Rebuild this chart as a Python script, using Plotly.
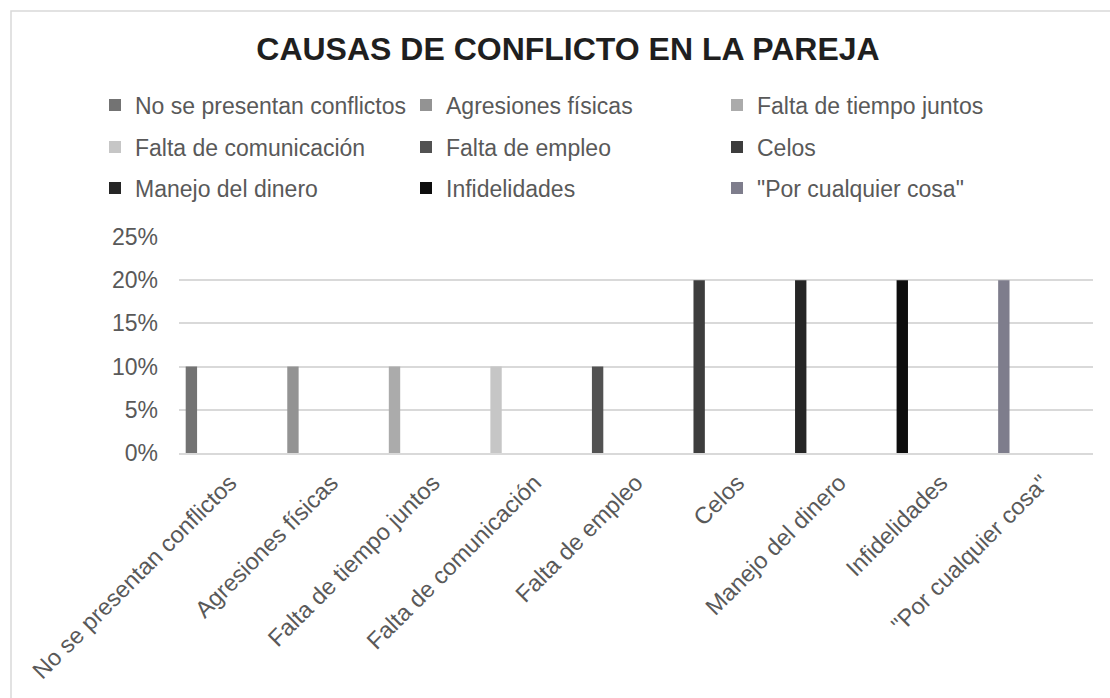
import plotly.graph_objects as go

categories = ["No se presentan conflictos", "Agresiones físicas", "Falta de tiempo juntos",
              "Falta de comunicación", "Falta de empleo", "Celos", "Manejo del dinero",
              "Infidelidades", "\"Por cualquier cosa\""]
values = [0.10, 0.10, 0.10, 0.10, 0.10, 0.20, 0.20, 0.20, 0.20]
colors = ["#737373", "#939393", "#ababab", "#c6c6c6", "#525252", "#3d3d3d", "#262626", "#0d0d0d", "#7e7d8c"]
y_ticks = [0, 0.05, 0.10, 0.15, 0.20, 0.25]

W, H = 1110, 698
L, R, T, B = 179, 1093, 237, 453
pw, ph = R - L, B - T

def px2x(p):
    return (p - L) / pw

def px2y(p):
    return (B - p) / ph

FONT = "Liberation Sans, Arial, sans-serif"
TXT = "#595959"

fig = go.Figure()
legend_names = ["legend", "legend2", "legend3"]
for i, (c, v, col) in enumerate(zip(categories, values, colors)):
    fig.add_trace(go.Bar(
        x=[c], y=[v], name=c, marker=dict(color=col, line=dict(width=0)),
        offset=-0.434, width=0.112,
        legend=legend_names[i // 3],
        hovertemplate="%{x}: %{y:.0%}<extra></extra>",
    ))

row_y = [105, 147, 188]
leg_common = dict(orientation="h", xanchor="left", yanchor="middle",
                  font=dict(family=FONT, size=23, color=TXT),
                  entrywidth=266, entrywidthmode="pixels",
                  bgcolor="rgba(0,0,0,0)", borderwidth=0, traceorder="normal")

fig.update_layout(
    width=W, height=H,
    margin=dict(l=L, r=W - R, t=T, b=H - B, autoexpand=False),
    paper_bgcolor="white", plot_bgcolor="white",
    barmode="overlay",
    showlegend=True,
    title=dict(text="<b>CAUSAS DE CONFLICTO EN LA PAREJA</b>",
               font=dict(family=FONT, size=32, color="#1f1f1f"),
               x=568 / W, xanchor="center", y=1 - 49 / H, yanchor="middle"),
    legend=dict(x=px2x(95), y=px2y(row_y[0]), **leg_common),
    legend2=dict(x=px2x(95), y=px2y(row_y[1]), **leg_common),
    legend3=dict(x=px2x(95), y=px2y(row_y[2]), **leg_common),
    xaxis=dict(categoryorder="array", categoryarray=categories,
               tickangle=-45, tickfont=dict(family=FONT, size=23.5, color=TXT),
               showline=True, linecolor="#d9d9d9", linewidth=1.5,
               showgrid=False, ticks="", ticklabelstandoff=5,
               automargin=False, fixedrange=True),
    yaxis=dict(range=[0, 0.25], tickvals=y_ticks, tickformat=".0%",
               tickfont=dict(family=FONT, size=23, color=TXT),
               showgrid=True, gridcolor="#d9d9d9", gridwidth=1.5,
               zeroline=False, showline=False, ticks="", ticklabelstandoff=20,
               automargin=False, fixedrange=True),
    shapes=[dict(type="rect", xref="paper", yref="paper",
                 x0=px2x(11), x1=px2x(1125), y0=px2y(711), y1=px2y(11),
                 line=dict(color="#d9d9d9", width=1.5), fillcolor="rgba(0,0,0,0)", layer="below")],
)

fig.write_html("out.html", config={"displayModeBar": False},
               post_script="document.body.style.margin='0';document.body.style.overflow='hidden';")
